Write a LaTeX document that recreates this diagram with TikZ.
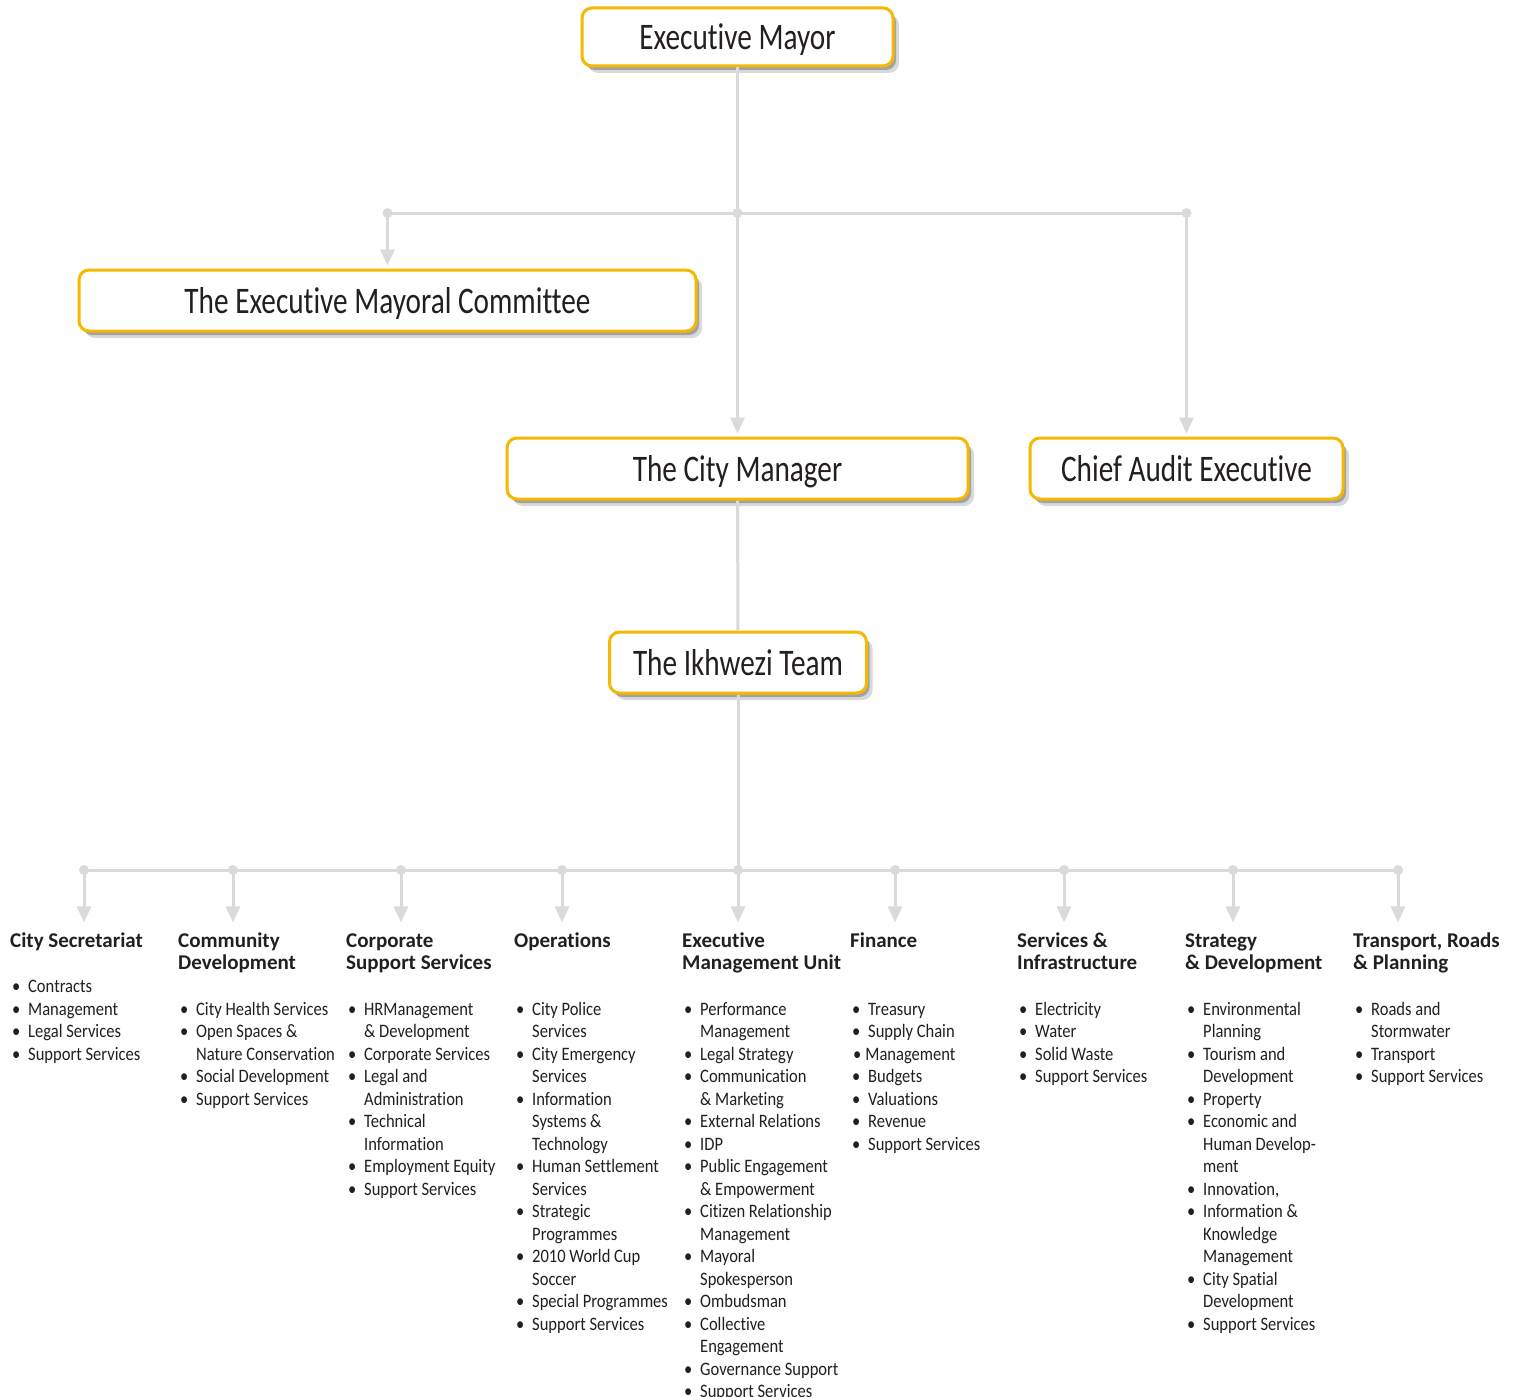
\documentclass[tikz,border=0pt]{standalone}
\usepackage{fontspec}
\setmainfont{Carlito}[FakeStretch=0.87, Ligatures=NoCommon]
\newfontfamily\postfont{Carlito}[FakeStretch=0.78, Ligatures=NoCommon]
\newfontfamily\headfont{Carlito}[Ligatures=NoCommon]
\usetikzlibrary{positioning, arrows.meta, shadows}
\definecolor{boxgold}{RGB}{246,184,0}
\definecolor{linkgray}{RGB}{218,218,220}
\definecolor{inkgray}{RGB}{35,31,32}
\newcommand{\bl}{\makebox[18pt][l]{\hspace{2pt}\textbullet}}

\begin{document}
\begin{tikzpicture}[x=1pt, y=-1pt,
  post/.style={draw=boxgold, line width=3pt, rounded corners=10pt, fill=white, inner sep=0pt, text=inkgray,
    font=\postfont\fontsize{37.5}{42}\selectfont, text depth=0pt,
    drop shadow={shadow xshift=3pt, shadow yshift=-4pt, opacity=0.25, fill=black},
    drop shadow={shadow xshift=6pt, shadow yshift=-7pt, opacity=0.15, fill=black}},
  link/.style={draw=linkgray, line width=3pt},
  arr/.style={link, -{Triangle[width=14pt, length=16pt]}, shorten >=3pt},
  dot/.style={circle, fill=linkgray, inner sep=0pt, minimum size=10pt},
  head/.style={anchor=base west, inner sep=0pt, text=inkgray, font=\headfont\bfseries\fontsize{21}{22}\selectfont},
  duties/.style={anchor=base west, inner sep=0pt, text=inkgray, font=\fontsize{19}{22.5}\selectfont}]

  \fill[white] (0,0) rectangle (1518,1397);
  \useasboundingbox (0,0) rectangle (1518,1397);

  % top of the tree
  \node[post, minimum width=311pt, minimum height=58pt] (mayor)     at (737.5,37)    {Executive Mayor};
  \node[post, minimum width=617pt, minimum height=61pt] (committee) at (387.5,300.5) {The Executive Mayoral Committee};
  \node[post, minimum width=461pt, minimum height=61pt] (manager)   at (737.5,468.5) {The City Manager};
  \node[post, minimum width=313pt, minimum height=61pt] (audit)     at (1186.5,468.5) {Chief Audit Executive};
  \node[post, minimum width=257pt, minimum height=61pt] (ikhwezi)   at (738,662.5)   {The Ikhwezi Team};

  \coordinate (top hub)   at (737.5,213);
  \coordinate (left hub)  at (387.5,213);
  \coordinate (right hub) at (1186.5,213);

  \draw[link] (mayor) -- (top hub);
  \draw[link] (left hub) -- (right hub);
  \draw[arr] (left hub) -- (committee);
  \draw[arr] (top hub) -- (manager);
  \draw[arr] (right hub) -- (audit);
  \draw[link] (manager) -- (ikhwezi);
  \node[dot] at (left hub) {};
  \node[dot] at (top hub) {};
  \node[dot] at (right hub) {};

  % directorates
  \node[head] (head 1) at (10,947)   {\begin{tabular}[t]{@{}l@{}}City Secretariat\end{tabular}};
  \node[head] (head 2) at (178,947)  {\begin{tabular}[t]{@{}l@{}}Community\\Development\end{tabular}};
  \node[head] (head 3) at (346,947)  {\begin{tabular}[t]{@{}l@{}}Corporate\\Support Services\end{tabular}};
  \node[head] (head 4) at (514,947)  {\begin{tabular}[t]{@{}l@{}}Operations\end{tabular}};
  \node[head] (head 5) at (682,947)  {\begin{tabular}[t]{@{}l@{}}Executive\\Management Unit\end{tabular}};
  \node[head] (head 6) at (850,947)  {\begin{tabular}[t]{@{}l@{}}Finance\end{tabular}};
  \node[head] (head 7) at (1017,947) {\begin{tabular}[t]{@{}l@{}}Services \&\\Infrastructure\end{tabular}};
  \node[head] (head 8) at (1185,947) {\begin{tabular}[t]{@{}l@{}}Strategy\\\& Development\end{tabular}};
  \node[head] (head 9) at (1353,947) {\begin{tabular}[t]{@{}l@{}}Transport, Roads\\\& Planning\end{tabular}};

  \node[duties] (list 1) at (10,992.5) {\begin{tabular}[t]{@{}l@{}l@{}}
    \bl & Contracts\\ \bl & Management\\ \bl & Legal Services\\ \bl & Support Services
  \end{tabular}};
  \node[duties] (list 2) at (178,1015) {\begin{tabular}[t]{@{}l@{}l@{}}
    \bl & City Health Services\\ \bl & Open Spaces \&\\ & Nature Conservation\\
    \bl & Social Development\\ \bl & Support Services
  \end{tabular}};
  \node[duties] (list 3) at (346,1015) {\begin{tabular}[t]{@{}l@{}l@{}}
    \bl & HRManagement\\ & \& Development\\ \bl & Corporate Services\\ \bl & Legal and\\ & Administration\\
    \bl & Technical\\ & Information\\ \bl & Employment Equity\\ \bl & Support Services
  \end{tabular}};
  \node[duties] (list 4) at (514,1015) {\begin{tabular}[t]{@{}l@{}l@{}}
    \bl & City Police\\ & Services\\ \bl & City Emergency\\ & Services\\ \bl & Information\\ & Systems \&\\ & Technology\\
    \bl & Human Settlement\\ & Services\\ \bl & Strategic\\ & Programmes\\ \bl & 2010 World Cup\\ & Soccer\\
    \bl & Special Programmes\\ \bl & Support Services
  \end{tabular}};
  \node[duties] (list 5) at (682,1015) {\begin{tabular}[t]{@{}l@{}l@{}}
    \bl & Performance\\ & Management\\ \bl & Legal Strategy\\ \bl & Communication\\ & \& Marketing\\
    \bl & External Relations\\ \bl & IDP\\ \bl & Public Engagement\\ & \& Empowerment\\
    \bl & Citizen Relationship\\ & Management\\ \bl & Mayoral\\ & Spokesperson\\ \bl & Ombudsman\\
    \bl & Collective\\ & Engagement\\ \bl & Governance Support\\ \bl & Support Services
  \end{tabular}};
  \node[duties] (list 6) at (850,1015) {\begin{tabular}[t]{@{}l@{}l@{}}
    \bl & Treasury\\ \bl & Supply Chain\\ \multicolumn{2}{@{}l@{}}{\hspace{3pt}\textbullet\hspace{4pt}Management}\\
    \bl & Budgets\\ \bl & Valuations\\ \bl & Revenue\\ \bl & Support Services
  \end{tabular}};
  \node[duties] (list 7) at (1017,1015) {\begin{tabular}[t]{@{}l@{}l@{}}
    \bl & Electricity\\ \bl & Water\\ \bl & Solid Waste\\ \bl & Support Services
  \end{tabular}};
  \node[duties] (list 8) at (1185,1015) {\begin{tabular}[t]{@{}l@{}l@{}}
    \bl & Environmental\\ & Planning\\ \bl & Tourism and\\ & Development\\ \bl & Property\\
    \bl & Economic and\\ & Human Develop-\\ & ment\\ \bl & Innovation,\\ \bl & Information \&\\
    & Knowledge\\ & Management\\ \bl & City Spatial\\ & Development\\ \bl & Support Services
  \end{tabular}};
  \node[duties] (list 9) at (1353,1015) {\begin{tabular}[t]{@{}l@{}l@{}}
    \bl & Roads and\\ & Stormwater\\ \bl & Transport\\ \bl & Support Services
  \end{tabular}};

  % lower tree
  \coordinate (hub 1) at (84,870);
  \coordinate (hub 2) at (233,870);
  \coordinate (hub 3) at (401,870);
  \coordinate (hub 4) at (562,870);
  \coordinate (hub 5) at (738,870);
  \coordinate (hub 6) at (895,870);
  \coordinate (hub 7) at (1064,870);
  \coordinate (hub 8) at (1233,870);
  \coordinate (hub 9) at (1398,870);

  \draw[link] (ikhwezi) -- (hub 5);
  \draw[link] (hub 1) -- (hub 9);
  \foreach \i in {1,...,9} {
    \draw[arr, shorten >=9pt] (hub \i) -- (hub \i |- head \i.north);
    \node[dot] at (hub \i) {};
  }
\end{tikzpicture}
\end{document}
